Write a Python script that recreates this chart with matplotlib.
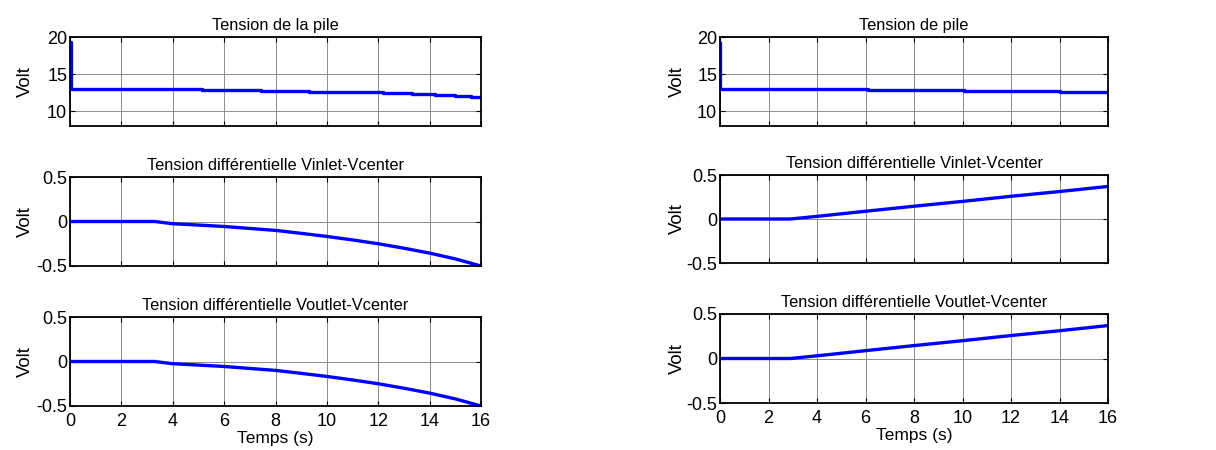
import numpy as np
import matplotlib
matplotlib.use('Agg')
import matplotlib.pyplot as plt

plt.rcParams['font.family'] = ['Liberation Sans', 'DejaVu Sans']

C_LINE = '#0000ff'
C_GRID = '#8c8c8c'

# ── Tension de la pile (gauche) : valeurs en escalier ──
pile_l_t = [0, 0.02, 5.15, 7.44, 9.29, 10.9, 12.2, 13.3, 14.2, 15.0, 15.6, 16]
pile_l_v = [19.3, 13.0, 12.88, 12.77, 12.65, 12.55, 12.43, 12.32, 12.2, 12.1, 11.95, 11.95]

# ── Tension de pile (droite) ──
pile_r_t = [0, 0.02, 6.1, 10.06, 14.0, 16]
pile_r_v = [19.2, 13.0, 12.85, 12.72, 12.6, 12.6]

# ── Tensions différentielles (gauche) ──
diff_l_t = [0, 3.3, 4, 5, 6, 7, 8, 9, 10, 11, 12, 13, 14, 15, 16]
vin_l = [0, 0, -0.025, -0.04, -0.056, -0.078, -0.10, -0.133, -0.168, -0.207, -0.25, -0.30, -0.355, -0.42, -0.5]
vout_l = [0, 0, -0.025, -0.04, -0.056, -0.078, -0.10, -0.133, -0.168, -0.207, -0.25, -0.30, -0.355, -0.42, -0.5]

# ── Tensions différentielles (droite) ──
diff_r_t = [0, 2.9, 4, 6, 8, 10, 12, 14, 16]
vin_r = [0, 0, 0.03, 0.088, 0.145, 0.2, 0.258, 0.312, 0.37]
vout_r = [0, 0, 0.03, 0.088, 0.145, 0.2, 0.258, 0.312, 0.37]

W, H = 1216, 450
fig = plt.figure(figsize=(W / 100, H / 100), dpi=100)


def box(x0, y0, x1, y1):
    return [x0 / W, 1 - y1 / H, (x1 - x0) / W, (y1 - y0) / H]


def style(ax, title, ylim, yticks, xlabels):
    ax.set_xlim(0, 16)
    ax.set_ylim(*ylim)
    ax.set_xticks(np.arange(0, 17, 2))
    ax.set_yticks(yticks)
    ax.set_yticklabels([f'{v:g}' for v in yticks])
    ax.grid(True, color=C_GRID, linewidth=0.7)
    ax.tick_params(direction='in', top=True, right=True, length=3.5,
                   width=0.8, labelsize=13)
    ax.tick_params(axis='y', pad=2)
    ax.tick_params(axis='x', pad=5)
    for s in ax.spines.values():
        s.set_linewidth(1.3)
    ax.set_title(title, fontsize=11.8, pad=5)
    ax.set_ylabel('Volt', fontsize=13.4)
    ax.yaxis.set_label_coords(-0.088, 0.5)
    if xlabels:
        ax.set_xlabel('Temps (s)', fontsize=12.5, labelpad=1)
    else:
        ax.set_xticklabels([])


panels = [
    # (box, title, t, v, steps, ylim, yticks, xlabels)
    (box(70, 37, 481, 126), 'Tension de la pile', pile_l_t, pile_l_v, True, (8, 20), [10, 15, 20], False),
    (box(70, 177, 481, 266), 'Tension différentielle Vinlet-Vcenter', diff_l_t, vin_l, False, (-0.5, 0.5), [-0.5, 0, 0.5], False),
    (box(70, 317, 481, 406), 'Tension différentielle Voutlet-Vcenter', diff_l_t, vout_l, False, (-0.5, 0.5), [-0.5, 0, 0.5], True),
    (box(720, 37, 1108, 126), 'Tension de pile', pile_r_t, pile_r_v, True, (8, 20), [10, 15, 20], False),
    (box(720, 175, 1108, 263), 'Tension différentielle Vinlet-Vcenter', diff_r_t, vin_r, False, (-0.5, 0.5), [-0.5, 0, 0.5], False),
    (box(720, 314, 1108, 403), 'Tension différentielle Voutlet-Vcenter', diff_r_t, vout_r, False, (-0.5, 0.5), [-0.5, 0, 0.5], True),
]

for rect, title, t, v, steps, ylim, yticks, xlabels in panels:
    ax = fig.add_axes(rect)
    ax.plot(t, v, color=C_LINE, linewidth=2.4,
            drawstyle='steps-post' if steps else 'default', clip_on=True)
    style(ax, title, ylim, yticks, xlabels)

fig.savefig('out.png', dpi=100)
plt.close(fig)
